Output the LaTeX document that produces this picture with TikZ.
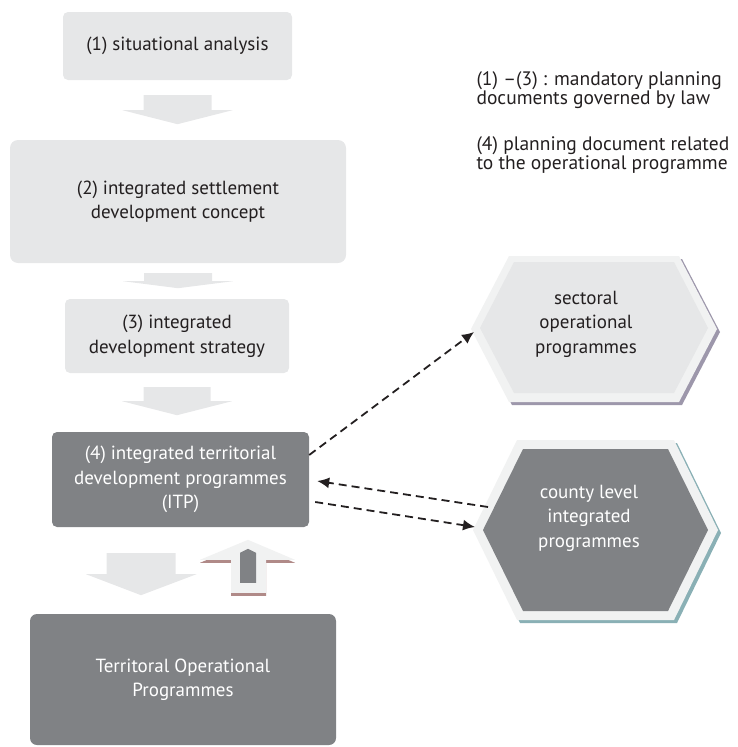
\documentclass[tikz,border=0pt]{standalone}
\usepackage{fontspec}
\setmainfont{PT Sans}
\usetikzlibrary{arrows.meta}
\definecolor{boxlight}{HTML}{E6E7E8}
\definecolor{boxdark}{HTML}{808285}
\definecolor{rim}{HTML}{F1F2F2}
\definecolor{ink}{HTML}{231F20}
\definecolor{rimsop}{HTML}{9D97AB}
\definecolor{rimcip}{HTML}{8AB0B5}
\definecolor{rimup}{HTML}{B08A88}
\begin{document}
\begin{tikzpicture}[x=1pt,y=-1pt]
        \tikzset{plan/.style = {rectangle,rounded corners=5pt,fill=boxlight,text=ink,align=center,font=\fontsize{19}{24.5}\selectfont}}
        \tikzset{prog/.style = {plan,fill=boxdark,text=white}}
        \tikzset{hexlabel/.style = {align=center,font=\fontsize{19}{24.5}\selectfont}}
        \tikzset{flow/.style = {fill=boxlight}}
        \tikzset{link/.style = {dash pattern=on 8pt off 5pt,line width=1.8pt,draw=ink,-{Latex[length=12pt,width=11pt]}}}
        \useasboundingbox (0,0) rectangle (738,747);
        % planning documents
        \node[plan,minimum width=229pt,minimum height=68pt] (sa) at (177.5,46) {(1) situational analysis};
        \node[plan,rounded corners=8pt,minimum width=336pt,minimum height=123pt] (isdc) at (178,201.5) {(2) integrated settlement\\development concept};
        \node[plan,minimum width=224pt,minimum height=74pt] (ids) at (177,336) {(3) integrated\\development strategy};
        \node[prog,minimum width=257pt,minimum height=95pt] (itp) at (180.5,479.5) {(4) integrated territorial\\development programmes\\(ITP)};
        \node[prog,rounded corners=7pt,minimum width=306pt,minimum height=131pt] (top) at (183,679.5) {Territoral Operational\\Programmes};
        % flow between the documents
        \fill[flow,shift={(sa.south)}] (-34,15) -- (34,15) -- (34,30) -- (55,30) -- (0,44) -- (-55,30) -- (-34,30) -- cycle;
        \fill[flow,shift={(isdc.south)}] (-34,10) -- (34,10) -- (34,18) -- (55,18) -- (0,25) -- (-55,18) -- (-34,18) -- cycle;
        \fill[flow,shift={(ids.south)}] (-33.5,14) -- (33.5,14) -- (33.5,28) -- (55,28) -- (0,42) -- (-55,28) -- (-33.5,28) -- cycle;
        \fill[flow,shift={(itp.south)}] (-74,26) -- (-5,26) -- (-5,47) -- (16,47) -- (-39.5,68) -- (-94.5,47) -- (-74,47) -- cycle;
        % feedback from the TOP
        \fill[rimup,shift={(top.north)}] (48,-18) -- (83,-18) -- (83,-51) -- (112,-51) -- (65,-71) -- (17,-51) -- (48,-51) -- cycle;
        \fill[rim,shift={(top.north)}] (48,-21) -- (83,-21) -- (83,-54) -- (112,-54) -- (65,-74) -- (17,-54) -- (48,-54) -- cycle;
        \fill[boxdark,shift={(top.north)}] (57,-31) -- (73,-31) -- (73,-61) -- (65,-65) -- (57,-61) -- cycle;
        % operational programmes
        \coordinate (sop-w) at (471,329);
        \coordinate (cip-w) at (473,530);
        \fill[rimsop] (474,332) -- (512,259) -- (682,259) -- (720,332) -- (682,405) -- (512,405) -- cycle;
        \fill[rim] (sop-w) -- (509,256) -- (679,256) -- (717,329) -- (679,402) -- (509,402) -- cycle;
        \fill[boxlight] (480,328) -- (514,262) -- (674,262) -- (708,328) -- (674,393) -- (514,393) -- cycle;
        \node[hexlabel,text=ink] (sop) at (586,324) {sectoral\\operational\\programmes};
        \fill[rimcip] (476,533) -- (520,443) -- (677,443) -- (721,533) -- (677,623) -- (520,623) -- cycle;
        \fill[rim] (cip-w) -- (517,440) -- (674,440) -- (718,530) -- (674,620) -- (517,620) -- cycle;
        \fill[boxdark] (483,530) -- (523,449) -- (668,449) -- (708,530) -- (668,611) -- (523,611) -- cycle;
        \node[hexlabel,text=white] (cip) at (589,518) {county level\\integrated\\programmes};
        % links between ITP and the programmes
        \coordinate (cip-out) at (488,507);
        \draw[link] ([yshift=24.5pt]itp.east) to ([shift={(3,3)}]sop-w);
        \draw[link] (cip-out) to ([xshift=8pt,yshift=-1.5pt]itp.east);
        \draw[link] ([xshift=6pt,yshift=-22.5pt]itp.east) to ([shift={(2,-3)}]cip-w);
        % legend
        \node[anchor=west,align=left,text=ink,font=\fontsize{19.5}{17}\selectfont] (law) at (473,90.5) {(1) –(3) : mandatory planning\\documents governed by law};
        \node[anchor=west,align=left,text=ink,font=\fontsize{19.5}{17}\selectfont] (op) at (473,155.5) {(4) planning document related\\to the operational programme};
\end{tikzpicture}
\end{document}
